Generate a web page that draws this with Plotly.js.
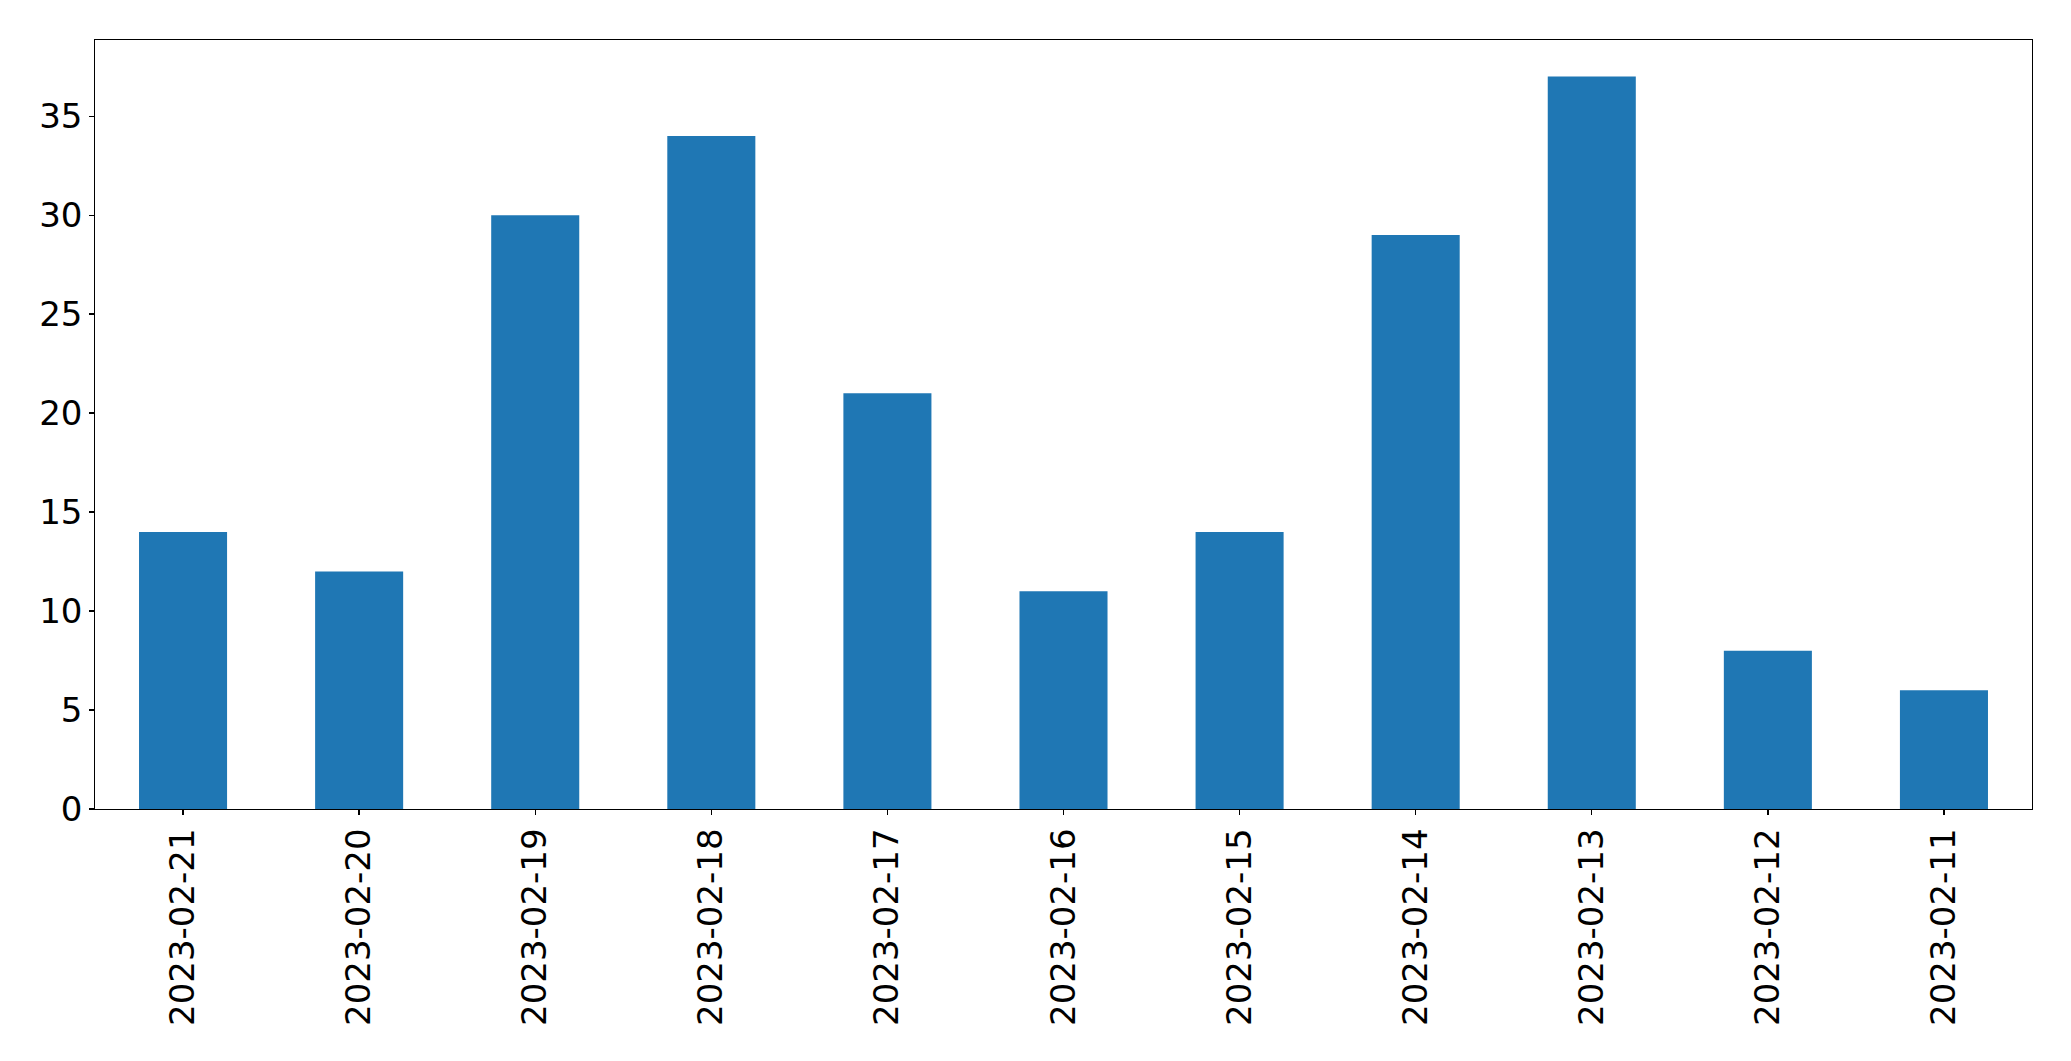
<!DOCTYPE html>
<html>
<head>
<meta charset="utf-8">
<script src="https://cdn.plot.ly/plotly-3.0.1.min.js"></script>
<style>html,body{margin:0;padding:0;background:#fff;}#chart{width:2071px;height:1061px;}</style>
</head>
<body>
<div id="chart"></div>
<script>
const dates = ["2023-02-21","2023-02-20","2023-02-19","2023-02-18","2023-02-17","2023-02-16","2023-02-15","2023-02-14","2023-02-13","2023-02-12","2023-02-11"];
const counts = [14, 12, 30, 34, 21, 11, 14, 29, 37, 8, 6];
const yTicks = [0, 5, 10, 15, 20, 25, 30, 35];

const trace = {
  type: 'bar',
  x: dates,
  y: counts,
  width: 0.5,
  marker: {color: '#1f77b4', line: {width: 0}},
  hoverinfo: 'x+y'
};

const font = {family: 'DejaVu Sans, sans-serif', size: 34, color: '#000'};

const layout = {
  width: 2071,
  height: 1061,
  margin: {l: 94.5, r: 39.3, t: 39.5, b: 252, pad: 0},
  paper_bgcolor: '#fff',
  plot_bgcolor: '#fff',
  showlegend: false,
  bargap: 0.5,
  xaxis: {
    type: 'category',
    range: [-0.5, dates.length - 0.5],
    tickangle: -90,
    tickfont: font,
    ticks: 'outside',
    ticklen: 4.5,
    tickwidth: 1.3,
    tickcolor: '#000',
    showline: true,
    linecolor: '#000',
    linewidth: 1.3,
    mirror: true,
    showgrid: false,
    zeroline: false,
    ticklabelstandoff: 0
  },
  yaxis: {
    range: [0, 38.85],
    tickvals: yTicks,
    ticktext: yTicks.map(String),
    tickfont: font,
    ticks: 'outside',
    ticklen: 4.5,
    tickwidth: 1.3,
    tickcolor: '#000',
    showline: true,
    linecolor: '#000',
    linewidth: 1.3,
    mirror: true,
    showgrid: false,
    zeroline: false,
    ticklabelstandoff: 0
  }
};

Plotly.newPlot('chart', [trace], layout, {displayModeBar: false, staticPlot: true});
</script>
</body>
</html>
